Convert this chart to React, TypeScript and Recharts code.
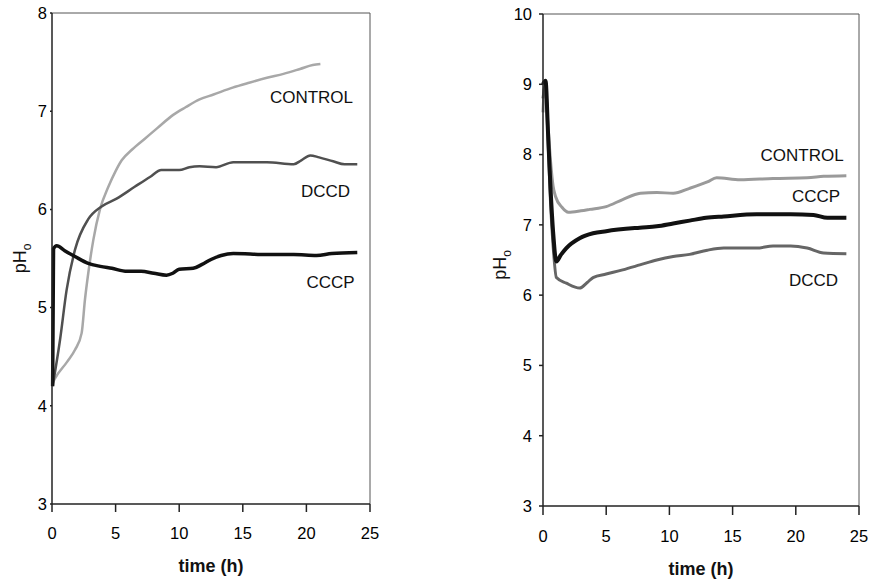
import React from 'react';
import { LineChart, Line, XAxis, YAxis, ReferenceLine, ReferenceDot } from 'recharts';

// ---------- Left panel data ----------
const CONTROL_L_T = [0, 0.24, 1.2, 1.81, 2.33, 2.59, 2.85, 3.25, 3.77, 4.43, 5.0, 5.48, 6.3, 7.3, 8.3, 9.5, 10.5, 11.6, 12.7, 14.2, 15.5, 16.9, 18.2, 19.5, 20.5, 21.1];
const CONTROL_L_PH = [4.22, 4.28, 4.45, 4.57, 4.74, 5.08, 5.35, 5.69, 6.0, 6.23, 6.39, 6.5, 6.61, 6.72, 6.83, 6.96, 7.04, 7.12, 7.17, 7.24, 7.29, 7.34, 7.38, 7.43, 7.47, 7.48];

const DCCD_L_T = [0.05, 0.63, 1.15, 1.81, 2.85, 3.9, 5.08, 6.5, 7.7, 8.6, 9.0, 10.0, 10.8, 11.6, 12.9, 14.25, 16.9, 19.0, 19.6, 20.3, 21.0, 22.1, 23.0, 24.0];
const DCCD_L_PH = [4.2, 4.67, 5.18, 5.59, 5.9, 6.03, 6.11, 6.23, 6.33, 6.4, 6.4, 6.4, 6.43, 6.44, 6.43, 6.48, 6.48, 6.46, 6.5, 6.55, 6.53, 6.49, 6.46, 6.46];

const CCCP_L_T = [0.05, 0.12, 0.37, 1.0, 1.81, 2.85, 3.8, 4.7, 5.9, 7.0, 8.0, 9.0, 9.5, 10.0, 11.1, 11.8, 12.5, 13.3, 14.25, 16.9, 19.0, 20.8, 22.0, 24.0];
const CCCP_L_PH = [4.2, 5.6, 5.63, 5.58, 5.52, 5.45, 5.42, 5.4, 5.37, 5.37, 5.35, 5.33, 5.35, 5.39, 5.4, 5.44, 5.49, 5.53, 5.55, 5.54, 5.54, 5.53, 5.55, 5.56];

// ---------- Right panel data ----------
const CONTROL_R_T = [0, 0.15, 0.4, 0.6, 0.8, 1.0, 1.5, 2.0, 3.0, 3.7, 5.0, 6.3, 7.7, 9.0, 10.3, 11.6, 13.0, 13.74, 15.6, 18.2, 20.9, 22.2, 24.0];
const CONTROL_R_PH = [8.6, 9.0, 8.4, 7.9, 7.55, 7.4, 7.25, 7.18, 7.2, 7.22, 7.26, 7.36, 7.45, 7.46, 7.45, 7.52, 7.61, 7.67, 7.64, 7.66, 7.67, 7.69, 7.7];

const CCCP_R_T = [0, 0.2, 0.4, 0.6, 0.8, 1.06, 1.4, 1.85, 2.9, 3.96, 5.0, 7.66, 9.0, 10.3, 11.6, 12.9, 14.3, 16.9, 19.6, 21.4, 22.5, 24.0];
const CCCP_R_PH = [9.0, 9.05, 8.3, 7.5, 6.9, 6.48, 6.57, 6.67, 6.81, 6.88, 6.91, 6.96, 6.98, 7.02, 7.06, 7.1, 7.12, 7.15, 7.15, 7.14, 7.1, 7.1];

const DCCD_R_T = [0, 0.2, 0.4, 0.6, 0.8, 1.06, 1.85, 2.9, 3.5, 3.96, 5.0, 6.3, 7.66, 9.0, 10.3, 11.6, 13.0, 14.3, 16.9, 18.2, 19.6, 20.9, 22.2, 24.0];
const DCCD_R_PH = [8.8, 9.0, 8.2, 7.3, 6.7, 6.25, 6.17, 6.1, 6.18, 6.25, 6.3, 6.36, 6.43, 6.5, 6.55, 6.58, 6.64, 6.67, 6.67, 6.7, 6.7, 6.67, 6.6, 6.59];

// ---------- Axis ticks ----------
const X_TICKS = [0, 5, 10, 15, 20, 25];
const Y_TICKS_L = [3, 4, 5, 6, 7, 8];
const Y_TICKS_R = [3, 4, 5, 6, 7, 8, 9, 10];

// ---------- Annotations ----------
const NAMES_L = ['CONTROL', 'DCCD', 'CCCP'];
const NAME_T_L = [20.4, 21.5, 21.9];
const NAME_PH_L = [7.145, 6.19, 5.26];
const NAMES_R = ['CONTROL', 'CCCP', 'DCCD'];
const NAME_T_R = [20.5, 21.6, 21.4];
const NAME_PH_R = [8.0, 7.41, 6.22];

const mk = (t: number[], p: number[]) => t.map((x, i) => ({ t: x, ph: p[i] }));

const FONT = '"Liberation Sans", Arial, Helvetica, sans-serif';
const tickStyle = { fontSize: 16.5, fill: '#000', fontFamily: FONT };

const yLabel = (x: number, dyc: number) => (props: any) => {
  const vb = props.viewBox || { x: 0, y: 0, width: 0, height: 0 };
  const cy = vb.y + vb.height / 2 + dyc;
  return (
    <text x={x} y={cy} transform={`rotate(-90 ${x} ${cy})`} textAnchor="middle" fontSize={18} fill="#111" fontFamily={FONT}>
      pH<tspan fontSize={12} dy={5}>o</tspan>
    </text>
  );
};

const xLabel = (dy: number) => (props: any) => {
  const vb = props.viewBox || { x: 0, y: 0, width: 0, height: 0 };
  return (
    <text x={vb.x + vb.width / 2} y={vb.y + dy} textAnchor="middle" fontSize={18} fontWeight="bold" fill="#111" fontFamily={FONT}>
      time (h)
    </text>
  );
};

export default function App() {
  return (
    <div style={{ position: 'absolute', left: 0, top: 0, width: 870, height: 581, background: '#fff' }}>
      <div style={{ position: 'absolute', left: 0, top: 0 }}>
        <LineChart width={440} height={581} margin={{ top: 13, right: 70, bottom: 17, left: 0 }}>
          <XAxis
            dataKey="t"
            type="number"
            domain={[0, 25]}
            ticks={X_TICKS}
            tickSize={8}
            tickMargin={15}
            height={60}
            stroke="#222"
            strokeWidth={1.5}
            tick={tickStyle}
            label={{ content: xLabel(68) }}
          />
          <YAxis
            type="number"
            domain={[3, 8]}
            ticks={Y_TICKS_L}
            width={52}
            tickSize={2}
            tickMargin={3}
            stroke="#222"
            strokeWidth={1.5}
            tick={tickStyle}
            label={{ content: yLabel(26, 0) }}
          />
          <ReferenceLine y={8} stroke="#555" strokeWidth={1} />
          <ReferenceLine x={25} stroke="#555" strokeWidth={1} />
          <Line data={mk(CONTROL_L_T, CONTROL_L_PH)} dataKey="ph" type="monotone" dot={false} stroke="#a8a8a8" strokeWidth={2.5} isAnimationActive={false} />
          <Line data={mk(DCCD_L_T, DCCD_L_PH)} dataKey="ph" type="monotone" dot={false} stroke="#505050" strokeWidth={2.5} isAnimationActive={false} />
          <Line data={mk(CCCP_L_T, CCCP_L_PH)} dataKey="ph" type="monotone" dot={false} stroke="#111" strokeWidth={3.5} isAnimationActive={false} />
          {NAMES_L.map((n, i) => (
            <ReferenceDot key={n} x={NAME_T_L[i]} y={NAME_PH_L[i]} r={0} fill="none" stroke="none"
              label={{ value: n, position: 'center', fontSize: 17, fill: '#111', fontFamily: FONT }} />
          ))}
        </LineChart>
      </div>
      <div style={{ position: 'absolute', left: 440, top: 0 }}>
        <LineChart width={430} height={581} margin={{ top: 14, right: 11, bottom: 15, left: 0 }}>
          <XAxis
            dataKey="t"
            type="number"
            domain={[0, 25]}
            ticks={X_TICKS}
            tickSize={9}
            tickMargin={15}
            height={60}
            stroke="#222"
            strokeWidth={1.5}
            tick={tickStyle}
            label={{ content: xLabel(69) }}
          />
          <YAxis
            type="number"
            domain={[3, 10]}
            ticks={Y_TICKS_R}
            width={103}
            tickSize={4}
            tickMargin={7}
            stroke="#222"
            strokeWidth={1.5}
            tick={tickStyle}
            label={{ content: yLabel(66, 5) }}
          />
          <ReferenceLine y={10} stroke="#555" strokeWidth={1} />
          <ReferenceLine x={25} stroke="#555" strokeWidth={1} />
          <Line data={mk(CONTROL_R_T, CONTROL_R_PH)} dataKey="ph" type="monotone" dot={false} stroke="#9a9a9a" strokeWidth={3} isAnimationActive={false} />
          <Line data={mk(DCCD_R_T, DCCD_R_PH)} dataKey="ph" type="monotone" dot={false} stroke="#666" strokeWidth={3} isAnimationActive={false} />
          <Line data={mk(CCCP_R_T, CCCP_R_PH)} dataKey="ph" type="monotone" dot={false} stroke="#111" strokeWidth={4} isAnimationActive={false} />
          {NAMES_R.map((n, i) => (
            <ReferenceDot key={n} x={NAME_T_R[i]} y={NAME_PH_R[i]} r={0} fill="none" stroke="none"
              label={{ value: n, position: 'center', fontSize: 17, fill: '#111', fontFamily: FONT }} />
          ))}
        </LineChart>
      </div>
    </div>
  );
}
